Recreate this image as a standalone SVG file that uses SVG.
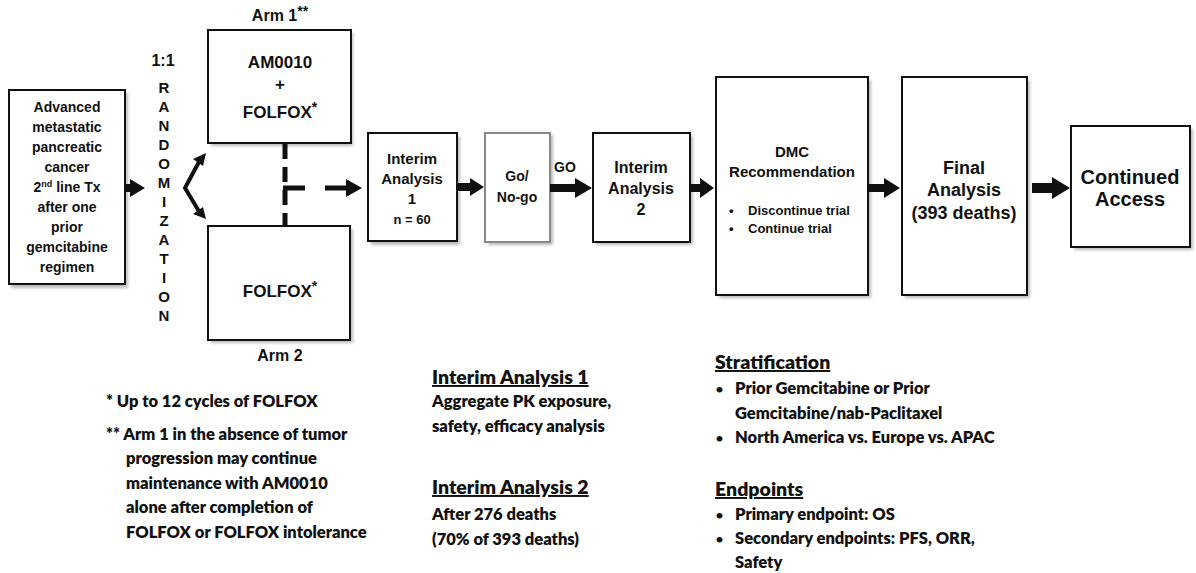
<svg xmlns="http://www.w3.org/2000/svg" width="1196" height="573" viewBox="0 0 1196 573">
<style>
.box{fill:#fff;stroke:#111;stroke-width:2}
.gbox{fill:#fff;stroke:#888;stroke-width:2}
.t{font-family:"Liberation Sans",Arial,sans-serif;font-weight:bold;fill:#111;text-anchor:middle}
.n{font-family:Lato,"Liberation Sans",sans-serif;font-weight:800;fill:#111;font-size:16.5px}
.h{font-size:19.5px;text-decoration:underline}
.b{font-size:12px}
.ar{fill:#111}
.sh{fill:#bbb}
</style>
<defs>
<filter id="blur" x="-10%" y="-10%" width="120%" height="120%"><feGaussianBlur stdDeviation="1.5"/></filter>
</defs>
<g id="shadows" filter="url(#blur)">
<rect class="sh" x="11" y="93" width="117" height="195"/>
<rect class="sh" x="211" y="33" width="142" height="113"/>
<rect class="sh" x="211" y="229" width="142" height="114"/>
<rect class="sh" x="371" y="136" width="89" height="109"/>
<rect class="sh" x="488" y="135" width="65" height="110"/>
<rect class="sh" x="596" y="136" width="97" height="109"/>
<rect class="sh" x="719" y="80" width="152" height="218"/>
<rect class="sh" x="905" y="80" width="125" height="218"/>
<rect class="sh" x="1074" y="129" width="119" height="121"/>
</g>
<g id="node-patient">
<rect class="box" x="9" y="90" width="116" height="194"/>
<text class="t" font-size="14" x="67"><tspan x="67" y="112">Advanced</tspan><tspan x="67" y="132">metastatic</tspan><tspan x="67" y="152">pancreatic</tspan><tspan x="67" y="172">cancer</tspan><tspan x="67" y="192">2<tspan font-size="9" dy="-5">nd</tspan><tspan dy="5"> line Tx</tspan></tspan><tspan x="67" y="212">after one</tspan><tspan x="67" y="232">prior</tspan><tspan x="67" y="252">gemcitabine</tspan><tspan x="67" y="272">regimen</tspan></text>
</g>
<g id="node-randomization">
<text class="t" font-size="16" x="163" y="66">1:1</text>
<text class="t" font-size="15" x="164"><tspan x="164" y="93">R</tspan><tspan x="164" y="112">A</tspan><tspan x="164" y="131">N</tspan><tspan x="164" y="150">D</tspan><tspan x="164" y="169">O</tspan><tspan x="164" y="188">M</tspan><tspan x="164" y="207">I</tspan><tspan x="164" y="226">Z</tspan><tspan x="164" y="245">A</tspan><tspan x="164" y="264">T</tspan><tspan x="164" y="283">I</tspan><tspan x="164" y="302">O</tspan><tspan x="164" y="321">N</tspan></text>
</g>
<g id="node-arm1">
<text class="t" font-size="16" x="280" y="21">Arm 1<tspan font-size="14" dy="-5">**</tspan></text>
<rect class="box" x="208" y="30" width="143" height="113"/>
<text class="t" font-size="17" x="280" y="68">AM0010</text>
<text class="t" font-size="17" x="280" y="90">+</text>
<text class="t" font-size="17" x="280" y="118">FOLFOX<tspan font-size="14" dy="-6">*</tspan></text>
</g>
<g id="node-arm2">
<rect class="box" x="208" y="226" width="142" height="114"/>
<text class="t" font-size="17" x="280" y="297">FOLFOX<tspan font-size="14" dy="-6">*</tspan></text>
<text class="t" font-size="16" x="280" y="361">Arm 2</text>
</g>
<g id="node-ia1">
<rect class="box" x="368" y="133" width="89" height="108"/>
<text class="t" font-size="15" x="412"><tspan x="412" y="164">Interim</tspan><tspan x="412" y="184">Analysis</tspan><tspan x="412" y="204">1</tspan><tspan x="412" y="224" font-size="13">n = 60</tspan></text>
</g>
<g id="node-gonogo">
<rect class="gbox" x="485" y="133" width="65" height="109"/>
<text class="t" font-size="14" x="517"><tspan x="517" y="181">Go/</tspan><tspan x="517" y="202">No-go</tspan></text>
</g>
<g id="node-ia2">
<rect class="box" x="593" y="133" width="97" height="109"/>
<text class="t" font-size="16" x="641"><tspan x="641" y="173">Interim</tspan><tspan x="641" y="194">Analysis</tspan><tspan x="641" y="215">2</tspan></text>
</g>
<g id="node-dmc">
<rect class="box" x="716" y="77" width="152" height="218"/>
<text class="t" font-size="15" x="792"><tspan x="792" y="157">DMC</tspan><tspan x="792" y="177">Recommendation</tspan></text>
<text class="t" font-size="13" style="text-anchor:start"><tspan x="729" y="215">•</tspan><tspan x="748" y="215">Discontinue trial</tspan><tspan x="729" y="233">•</tspan><tspan x="748" y="233">Continue trial</tspan></text>
</g>
<g id="node-final">
<rect class="box" x="902" y="77" width="125" height="218"/>
<text class="t" font-size="18" x="964"><tspan x="964" y="174">Final</tspan><tspan x="964" y="196">Analysis</tspan><tspan x="964" y="219">(393 deaths)</tspan></text>
</g>
<g id="node-access">
<rect class="box" x="1071" y="126" width="119" height="121"/>
<text class="t" font-size="20" x="1130"><tspan x="1130" y="184">Continued</tspan><tspan x="1130" y="206">Access</tspan></text>
</g>
<g id="connectors">
<polygon class="ar" points="125,184 130,184 130,179 145,188 130,197 130,192 125,192"/>
<g stroke="#111" stroke-width="4" fill="none">
<polyline points="200,160 185,188 200,213"/>
</g>
<polygon class="ar" points="206,153 193,159 203,166"/>
<polygon class="ar" points="206,219 193,214 203,207"/>
<line x1="285" y1="144" x2="285" y2="226" stroke="#111" stroke-width="5" stroke-dasharray="15 8"/>
<line x1="283" y1="188" x2="305" y2="188" stroke="#111" stroke-width="5"/>
<line x1="325" y1="188" x2="348" y2="188" stroke="#111" stroke-width="5"/>
<polygon class="ar" points="346,179 362,188 346,197"/>
<polygon class="ar" points="457,183 470,183 470,178 484,187 470,196 470,191 457,191"/>
<text class="t" font-size="14" x="565" y="172">GO</text>
<polygon class="ar" points="550,184 575,184 575,178 592,188 575,198 575,192 550,192"/>
<polygon class="ar" points="690,184 700,184 700,178 714,188 700,198 700,192 690,192"/>
<polygon class="ar" points="868,184 884,184 884,178 900,188 884,198 884,192 868,192"/>
<polygon class="ar" points="1032,183 1052,183 1052,177 1070,188 1052,199 1052,193 1032,193"/>
</g>
<g id="notes">
<text class="n" x="106" y="407">* Up to 12 cycles of FOLFOX</text>
<text class="n" x="106" y="440">** Arm 1 in the absence of tumor</text>
<text class="n" x="126" y="464">progression may continue</text>
<text class="n" x="126" y="489">maintenance with AM0010</text>
<text class="n" x="126" y="513">alone after completion of</text>
<text class="n" x="126" y="538">FOLFOX or FOLFOX intolerance</text>

<text class="n h" x="432" y="384">Interim Analysis 1</text>
<text class="n" x="432" y="407">Aggregate PK exposure,</text>
<text class="n" x="432" y="432">safety, efficacy analysis</text>
<text class="n h" x="432" y="494">Interim Analysis 2</text>
<text class="n" x="432" y="520">After 276 deaths</text>
<text class="n" x="432" y="545">(70% of 393 deaths)</text>

<text class="n h" x="715" y="369">Stratification</text>
<text class="n"><tspan class="b" x="716" y="393">•</tspan><tspan x="735" y="394">Prior Gemcitabine or Prior</tspan><tspan x="735" y="419">Gemcitabine/nab-Paclitaxel</tspan><tspan class="b" x="716" y="442">•</tspan><tspan x="735" y="443">North America vs. Europe vs. APAC</tspan></text>
<text class="n h" x="715" y="496">Endpoints</text>
<text class="n"><tspan class="b" x="716" y="519">•</tspan><tspan x="735" y="520">Primary endpoint: OS</tspan><tspan class="b" x="716" y="543">•</tspan><tspan x="735" y="544">Secondary endpoints: PFS, ORR,</tspan><tspan x="735" y="568">Safety</tspan></text>
</g>
</svg>
